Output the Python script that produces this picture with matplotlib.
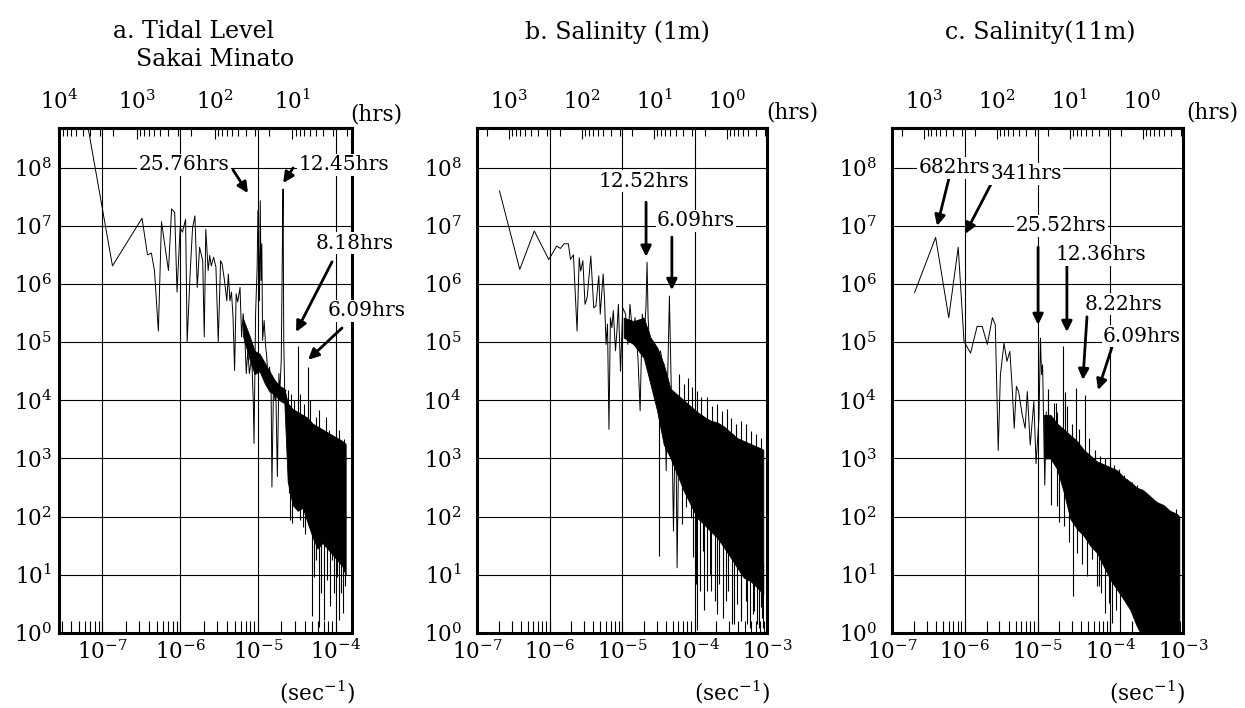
import numpy as np
import matplotlib
matplotlib.use("Agg")
import matplotlib.pyplot as plt
from matplotlib.ticker import LogLocator, NullLocator, NullFormatter, FixedLocator

plt.rcParams['font.family'] = ['DejaVu Serif']
plt.rcParams['mathtext.fontset'] = 'dejavuserif'
plt.rcParams['axes.unicode_minus'] = False

# ---------------- data (log10 frequency [1/s], log10 power) ----------------
# Panel a: tidal level, Sakai Minato
a_logf = [-7.22, -6.87, -6.49, -6.42, -6.37, -6.33, -6.28, -6.24, -6.19, -6.15, -6.11, -6.07,
          -6.04, -6.00, -5.97, -5.93, -5.91, -5.87, -5.84, -5.81, -5.78, -5.75, -5.71, -5.69,
          -5.67, -5.64, -5.62, -5.60, -5.57, -5.54, -5.51, -5.48, -5.46, -5.43, -5.40, -5.38,
          -5.36, -5.34, -5.32, -5.30, -5.28, -5.26, -5.23, -5.21, -5.19, -5.17, -5.15, -5.13,
          -5.11, -5.08, -5.06, -5.05, -5.03, -5.01, -5.00, -4.98, -4.97, -4.96, -4.95, -4.94,
          -4.92, -4.90, -4.89, -4.87, -4.85, -4.83, -4.82, -4.80, -4.78, -4.77, -4.75, -4.73,
          -4.72, -4.70, -4.685, -4.677, -4.668, -4.655, -4.64]
a_logp = [8.96, 6.31, 7.13, 6.50, 6.53, 6.23, 5.19, 7.07, 6.60, 6.23, 7.29, 7.23,
          5.86, 6.97, 6.89, 7.11, 5.00, 6.23, 6.97, 7.17, 5.94, 6.63, 6.40, 5.09,
          6.94, 6.23, 6.49, 6.31, 6.46, 6.29, 5.00, 6.40, 6.34, 6.06, 5.71, 6.17,
          5.71, 5.86, 5.43, 4.51, 5.83, 5.69, 5.94, 5.09, 5.49, 5.14, 4.46, 4.86,
          4.46, 4.74, 4.00, 3.26, 5.49, 6.29, 7.26, 5.71, 7.43, 6.06, 6.69, 5.03,
          5.37, 4.91, 4.80, 4.40, 4.57, 4.11, 2.51, 4.23, 4.00, 4.17, 2.69, 4.46,
          4.11, 4.69, 6.69, 7.63, 5.03, 4.11, 4.17]
a_band_logf = [-5.191, -5.106, -5.043, -4.979, -4.915, -4.851, -4.787, -4.723, -4.660, -4.617,
               -4.553, -4.489, -4.426, -4.362, -4.298, -4.234, -4.170, -4.106, -4.043, -3.979,
               -3.915, -3.872]
a_band_hi = [5.40, 5.10, 4.85, 4.80, 4.65, 4.50, 4.35, 4.25, 4.20, 3.95,
             3.85, 3.80, 3.75, 3.70, 3.60, 3.55, 3.50, 3.45, 3.40, 3.35,
             3.30, 3.25]
a_band_lo = [5.10, 4.70, 4.45, 4.50, 4.30, 4.15, 4.10, 4.00, 3.95, 2.60,
             2.20, 2.10, 2.15, 1.90, 1.65, 1.45, 1.55, 1.45, 1.35, 1.25,
             1.15, 1.00]
a_spike_logf = [-4.617, -4.574, -4.532, -4.489, -4.460, -4.404, -4.362, -4.332, -4.255, -4.213,
                -4.128, -4.085, -4.000, -3.957, -3.889,
                -4.596, -4.583, -4.562, -4.519, -4.460, -4.426, -4.391, -4.340, -4.306, -4.277,
                -4.247, -4.213, -4.183, -4.149, -4.115, -4.077, -4.051, -4.017, -3.987, -3.957,
                -3.932, -3.906, -3.881]
a_spike_base = [3.6, 3.6, 3.6, 3.5, 3.5, 3.4, 3.4, 3.4, 3.3, 3.3,
                3.2, 3.2, 3.1, 3.1, 3.0,
                3.0, 3.0, 3.0, 3.0, 3.0, 3.0, 3.0, 3.0, 3.0, 3.0,
                3.0, 3.0, 3.0, 3.0, 3.0, 3.0, 3.0, 3.0, 3.0, 3.0,
                3.0, 3.0, 3.0]
a_spike_tip = [4.17, 4.11, 4.00, 4.94, 4.11, 3.94, 4.57, 4.00, 3.71, 3.83,
               3.71, 3.49, 3.43, 3.49, 3.34,
               2.40, 1.94, 1.89, 2.17, 1.94, 1.83, 1.71, 1.83, 0.29, 0.97,
               1.26, 0.11, 0.69, 0.23, 0.91, 0.46, 1.26, 0.69, 0.97, 0.23,
               0.69, 0.34, 0.80]

# Panel b: salinity 1 m
b_logf = [-6.69, -6.41, -6.21, -6.01, -5.90, -5.85, -5.80, -5.74, -5.71, -5.67, -5.62, -5.59,
          -5.57, -5.54, -5.51, -5.48, -5.43, -5.39, -5.36, -5.32, -5.30, -5.26, -5.24, -5.22,
          -5.20, -5.18, -5.16, -5.14, -5.12, -5.09, -5.07, -5.05, -5.02, -4.99, -4.95, -4.92,
          -4.89, -4.85, -4.82, -4.78, -4.75, -4.72, -4.69, -4.67, -4.654, -4.64, -4.61, -4.57,
          -4.54, -4.47, -4.42, -4.39, -4.37, -4.346, -4.32, -4.29, -4.26, -4.24, -4.21]
b_logp = [7.60, 6.25, 6.91, 6.42, 6.65, 6.61, 6.69, 6.69, 6.42, 6.50, 5.19, 6.45,
          6.22, 6.40, 5.65, 5.77, 6.48, 5.59, 5.62, 6.14, 5.48, 6.17, 5.71, 4.96,
          5.31, 3.50, 5.42, 5.25, 5.54, 4.85, 5.19, 5.65, 4.50, 5.59, 5.48, 4.96,
          5.65, 5.08, 5.42, 4.73, 3.82, 5.48, 5.19, 5.59, 6.37, 5.42, 4.73, 4.96,
          4.62, 4.85, 4.50, 2.79, 4.39, 5.79, 4.16, 1.75, 4.05, 1.12, 3.93]
b_band_logf = [-4.977, -4.839, -4.700, -4.608, -4.516, -4.424, -4.332, -4.240, -4.147, -4.055,
               -3.963, -3.871, -3.779, -3.687, -3.594, -3.502, -3.410, -3.318, -3.226, -3.134,
               -3.051]
b_band_hi = [5.42, 5.36, 5.42, 5.08, 4.91, 4.62, 4.20, 4.10, 4.00, 3.90,
             3.80, 3.72, 3.65, 3.62, 3.55, 3.45, 3.35, 3.30, 3.25, 3.20,
             3.15]
b_band_lo = [5.08, 4.96, 4.73, 4.28, 3.82, 3.24, 3.01, 2.73, 2.44, 2.21,
             1.98, 1.87, 1.75, 1.64, 1.47, 1.30, 1.12, 0.95, 0.89, 0.78,
             0.67]
b_spike_logf = [-4.217, -4.147, -4.092, -4.032, -3.963, -3.908, -3.825, -3.756, -3.687, -3.618,
                -3.558, -3.502, -3.433, -3.364, -3.295, -3.226, -3.157, -3.088,
                -4.493, -4.171, -4.124, -4.055, -4.018, -3.986, -3.963, -3.926, -3.889, -3.866,
                -3.825, -3.788, -3.779, -3.724, -3.687, -3.664, -3.604, -3.571, -3.539, -3.479,
                -3.456, -3.419, -3.364, -3.355, -3.295, -3.272, -3.235, -3.189, -3.180, -3.134,
                -3.111, -3.078, -3.065, -3.051]
b_spike_base = [3.0, 3.0, 3.0, 3.0, 3.0, 3.0, 3.0, 3.0, 3.0, 3.0,
                3.0, 3.0, 3.0, 3.0, 3.0, 3.0, 3.0, 3.0,
                4.0, 2.8, 2.8, 2.6, 2.5, 2.5, 2.5, 2.3, 2.3, 2.3,
                2.2, 2.2, 2.2, 2.0, 2.0, 2.0, 2.0, 2.0, 2.0, 1.8,
                1.8, 1.8, 1.5, 1.5, 1.5, 1.5, 1.3, 1.3, 1.3, 1.2,
                1.2, 1.2, 1.2, 1.2]
b_spike_tip = [4.45, 4.28, 4.39, 4.22, 4.16, 4.05, 4.05, 3.90, 3.93, 3.82,
               3.85, 3.70, 3.59, 3.65, 3.59, 3.47, 3.42, 3.36,
               1.32, 1.87, 2.16, 1.98, 1.30, 0.84, 0.06, 0.72, 1.41, 0.40,
               0.72, 1.01, 0.72, 0.55, 0.32, 0.84, 0.26, 0.55, 0.72, 0.15,
               0.15, 0.49, 0.26, 0.21, 0.55, 0.15, 0.09, 0.32, 0.38, 0.15,
               0.09, 0.44, 0.26, 0.09]

# Panel c: salinity 11 m
c_logf = [-6.69, -6.40, -6.22, -6.09, -6.01, -5.92, -5.83, -5.76, -5.69, -5.62, -5.58, -5.54,
          -5.51, -5.46, -5.42, -5.38, -5.35, -5.32, -5.29, -5.26, -5.21, -5.17, -5.14, -5.10,
          -5.05, -5.02, -4.98, -4.959, -4.945, -4.93, -4.90, -4.88]
c_logp = [5.85, 6.80, 5.42, 6.63, 5.01, 4.81, 5.27, 5.27, 4.96, 5.42, 5.30, 3.14,
          4.44, 4.98, 4.67, 4.84, 4.26, 3.52, 4.24, 4.15, 3.75, 3.52, 4.15, 3.23,
          3.98, 2.91, 3.69, 5.07, 4.44, 4.61, 2.54, 3.80]
c_band_logf = [-4.913, -4.822, -4.731, -4.639, -4.548, -4.457, -4.365, -4.274, -4.183, -4.091,
               -4.000, -3.909, -3.817, -3.726, -3.635, -3.543, -3.452, -3.361, -3.269, -3.178,
               -3.087, -3.050]
c_band_hi = [3.75, 3.75, 3.60, 3.50, 3.40, 3.30, 3.15, 3.05, 2.95, 2.90,
             2.85, 2.80, 2.68, 2.60, 2.50, 2.45, 2.35, 2.25, 2.20, 2.10,
             2.05, 2.00]
c_band_lo = [3.00, 3.00, 2.82, 2.42, 1.96, 1.79, 1.67, 1.50, 1.38, 1.15,
             0.92, 0.75, 0.58, 0.40, 0.12, -0.1, -0.1, -0.1, -0.1, -0.1,
             -0.1, -0.1]
c_spike_logf = [-4.653, -4.470, -4.342, -4.850, -4.750, -4.600,
                -4.858, -4.776, -4.731, -4.616, -4.525, -4.434, -4.297, -4.205, -4.137, -4.068,
                -4.000, -3.945, -3.886, -3.817, -3.763, -3.703, -3.635, -3.566, -3.498, -3.429,
                -3.361, -3.292, -3.224, -3.155, -3.096,
                -4.511, -4.388, -4.251, -4.160, -4.068, -3.977, -3.863, -4.820, -4.700, -4.731,
                -4.639, -4.571, -4.457, -4.320, -4.183, -4.128, -4.023, -3.918]
c_spike_base = [3.2, 3.0, 2.9, 3.3, 3.2, 3.1,
                3.3, 3.2, 3.2, 3.1, 3.0, 2.9, 2.8, 2.7, 2.6, 2.6,
                2.5, 2.5, 2.4, 2.3, 2.3, 2.2, 2.2, 2.1, 2.0, 2.0,
                1.9, 1.9, 1.8, 1.8, 1.8,
                2.2, 2.0, 2.0, 1.8, 1.5, 1.5, 1.2, 3.2, 3.0, 3.0,
                2.6, 2.3, 2.0, 1.8, 1.6, 1.5, 1.3, 1.0]
c_spike_tip = [4.93, 4.21, 4.09, 4.20, 3.95, 3.90,
               4.10, 3.95, 3.80, 4.15, 3.60, 3.50, 3.35, 3.15, 3.05, 3.00,
               3.00, 2.88, 2.82, 2.71, 2.65, 2.59, 2.54, 2.48, 2.36, 2.31,
               2.25, 2.19, 2.13, 2.08, 2.13,
               0.64, 1.18, 1.27, 0.81, 0.35, 0.17, 0.02, 2.20, 1.90, 2.19,
               1.84, 1.56, 1.38, 0.98, 0.81, 0.69, 0.52, 0.40]

titles = ["a. Tidal Level", "b. Salinity (1m)", "c. Salinity(11m)"]
subtitle_a = "Sakai Minato"
a_labels = ["25.76hrs", "12.45hrs", "8.18hrs", "6.09hrs"]
b_labels = ["12.52hrs", "6.09hrs"]
c_labels = ["682hrs", "341hrs", "25.52hrs", "12.36hrs", "8.22hrs", "6.09hrs"]
a_hrs_ticks = [1e4, 1e3, 1e2, 1e1]
bc_hrs_ticks = [1e3, 1e2, 1e1, 1e0]

# ---------------- layout ----------------
W, H = 1245, 708
fig = plt.figure(figsize=(W / 100, H / 100), dpi=100)
FS = 15.5


def px(x, y):
    return x / W, 1 - y / H


def rect(l, r, t=128, b=633):
    return [l / W, 1 - b / H, (r - l) / W, (b - t) / H]


def f2h(f):
    f = np.asarray(f, dtype=float)
    with np.errstate(divide='ignore', invalid='ignore'):
        return 1.0 / (3600.0 * f)


def h2f(h):
    h = np.asarray(h, dtype=float)
    with np.errstate(divide='ignore', invalid='ignore'):
        return 1.0 / (3600.0 * h)


# (text pos, arrow tail, arrow head) in axes fraction
a_ann = [((0.427, 0.927), (0.594, 0.917), (0.645, 0.871)),
         ((0.973, 0.927), (0.799, 0.921), (0.765, 0.891)),
         ((1.010, 0.772), (0.932, 0.735), (0.809, 0.596)),
         ((1.051, 0.638), (0.966, 0.604), (0.850, 0.541))]
b_ann = [((0.576, 0.895), (0.583, 0.853), (0.583, 0.745)),
         ((0.755, 0.816), (0.672, 0.784), (0.672, 0.679))]
c_ann = [((0.213, 0.921), (0.196, 0.901), (0.155, 0.806)),
         ((0.460, 0.909), (0.344, 0.893), (0.251, 0.790)),
         ((0.581, 0.806), (0.502, 0.764), (0.502, 0.610)),
         ((0.718, 0.749), (0.601, 0.729), (0.601, 0.596)),
         ((0.794, 0.651), (0.670, 0.626), (0.656, 0.501)),
         ((0.859, 0.588), (0.756, 0.566), (0.708, 0.481))]

panels = [
    dict(rect=rect(59, 352), xlim=(2.77e-8, 1.62e-4), ypad=5, hticks=a_hrs_ticks,
         f=a_logf, p=a_logp, bf=a_band_logf, bh=a_band_hi, bl=a_band_lo,
         sf=a_spike_logf, sb=a_spike_base, st=a_spike_tip, labels=a_labels, ann=a_ann,
         hrs=(376, 115), sec=(317, 692)),
    dict(rect=rect(477, 767), xlim=(1e-7, 1e-3), ypad=11, hticks=bc_hrs_ticks,
         f=b_logf, p=b_logp, bf=b_band_logf, bh=b_band_hi, bl=b_band_lo,
         sf=b_spike_logf, sb=b_spike_base, st=b_spike_tip, labels=b_labels, ann=b_ann,
         hrs=(792, 113), sec=(732, 692)),
    dict(rect=rect(892, 1183), xlim=(1e-7, 1e-3), ypad=11, hticks=bc_hrs_ticks,
         f=c_logf, p=c_logp, bf=c_band_logf, bh=c_band_hi, bl=c_band_lo,
         sf=c_spike_logf, sb=c_spike_base, st=c_spike_tip, labels=c_labels, ann=c_ann,
         hrs=(1212, 113), sec=(1147, 692)),
]

for P in panels:
    ax = fig.add_axes(P['rect'])
    ax.set_xscale('log')
    ax.set_yscale('log')
    ax.set_xlim(*P['xlim'])
    ax.set_ylim(1, 10 ** 8.68)

    ax.fill_between(10 ** np.array(P['bf']), 10 ** np.array(P['bl']), 10 ** np.array(P['bh']),
                    color='k', lw=0.6, zorder=3)
    sb = np.array(P['sb'])
    st = np.array(P['st'])
    ax.vlines(10 ** np.array(P['sf']), 10 ** np.minimum(sb, st), 10 ** np.maximum(sb, st),
              color='k', lw=0.8, zorder=3)
    ax.plot(10 ** np.array(P['f']), 10 ** np.array(P['p']), color='k', lw=0.7, zorder=3)

    ax.set_yticks([10.0 ** k for k in range(9)])
    ax.yaxis.set_minor_locator(NullLocator())
    ax.xaxis.set_major_locator(LogLocator(base=10, numticks=20))
    ax.xaxis.set_minor_locator(LogLocator(base=10, subs=np.arange(2, 10), numticks=20))
    ax.xaxis.set_minor_formatter(NullFormatter())
    ax.grid(True, which='major', color='k', lw=0.8)
    ax.set_axisbelow(True)
    ax.tick_params(axis='x', which='both', direction='in', length=9, width=0.8,
                   labelsize=FS, pad=5)
    ax.tick_params(axis='y', which='major', direction='in', length=0,
                   labelsize=FS, pad=P['ypad'])
    for s in ax.spines.values():
        s.set_linewidth(2.2)
        s.set_zorder(4)

    sec = ax.secondary_xaxis('top', functions=(f2h, h2f))
    sec.xaxis.set_major_locator(FixedLocator(P['hticks']))
    sec.xaxis.set_minor_formatter(NullFormatter())
    sec.tick_params(which='major', direction='in', length=8, width=0.8, labelsize=FS, pad=10)
    sec.tick_params(which='minor', direction='in', length=6, width=0.8)
    sec.spines['top'].set_linewidth(2.2)

    for lab, (tp, tail, head) in zip(P['labels'], P['ann']):
        ax.annotate('', xy=head, xytext=tail, xycoords='axes fraction',
                    textcoords='axes fraction', annotation_clip=False, zorder=8,
                    arrowprops=dict(arrowstyle='-|>,head_length=0.45,head_width=0.22',
                                    color='k', lw=2.0, mutation_scale=14,
                                    shrinkA=0, shrinkB=0))
        ax.text(tp[0], tp[1], lab, transform=ax.transAxes, ha='center', va='center',
                fontsize=14.5, zorder=9, clip_on=False,
                bbox=dict(facecolor='white', edgecolor='none', pad=1.0))

    fig.text(*px(*P['hrs']), '(hrs)', ha='center', va='center', fontsize=FS)
    fig.text(*px(*P['sec']), r'(sec$^{\mathdefault{-1}}$)', ha='center', va='center',
             fontsize=FS)

TFS = 17
fig.text(*px(194, 32), titles[0], ha='center', va='center', fontsize=TFS)
fig.text(*px(215, 60), subtitle_a, ha='center', va='center', fontsize=TFS)
fig.text(*px(617, 32), titles[1], ha='center', va='center', fontsize=TFS)
fig.text(*px(1040, 32), titles[2], ha='center', va='center', fontsize=TFS)

fig.savefig('out.png', dpi=100)
